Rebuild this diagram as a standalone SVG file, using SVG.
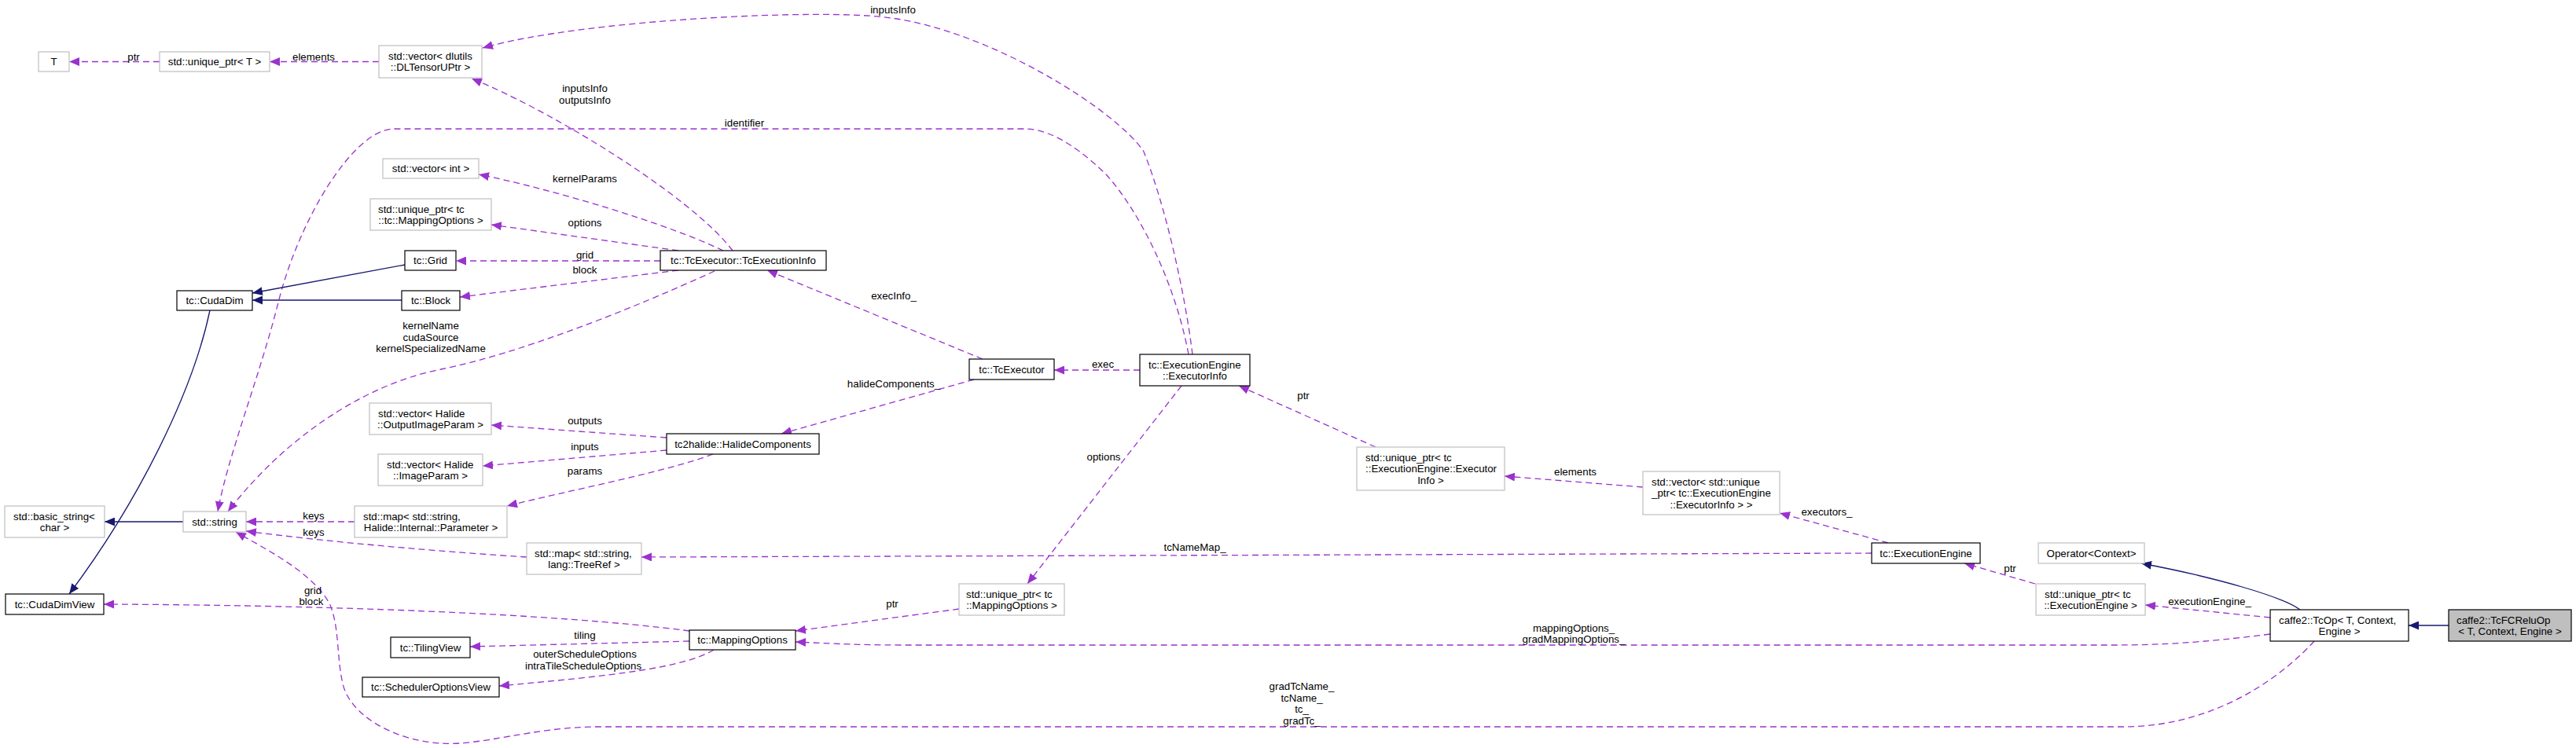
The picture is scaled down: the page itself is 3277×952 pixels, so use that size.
<svg xmlns="http://www.w3.org/2000/svg" width="3277" height="952" viewBox="0 0 3277 952">
<style>
text{font-family:"Liberation Sans",Arial,Helvetica,sans-serif;font-size:13.3px;fill:#000}
.c{text-anchor:middle}
.nb rect{fill:#fff;stroke:#000;stroke-width:1.2}
.ng rect{fill:#fff;stroke:#bfbfbf;stroke-width:1.2}
.nf rect{fill:#bfbfbf;stroke:#000;stroke-width:1.2}
.e{fill:none;stroke:#9a32cd;stroke-width:1.3;stroke-dasharray:8,5;marker-end:url(#ap)}
.i{fill:none;stroke:#191970;stroke-width:1.3;marker-end:url(#ab)}
</style>
<defs>
<marker id="ap" markerUnits="userSpaceOnUse" markerWidth="14" markerHeight="11" refX="13" refY="5.5" orient="auto"><path d="M0,0 L13,5.5 L0,11 z" fill="#9a32cd"/></marker>
<marker id="ab" markerUnits="userSpaceOnUse" markerWidth="14" markerHeight="11" refX="13" refY="5.5" orient="auto"><path d="M0,0 L13,5.5 L0,11 z" fill="#191970"/></marker>
</defs>
<rect width="3277" height="952" fill="#fff"/>
<g id="connectors">
<path class="e" d="M203,78.5 L88,78.5"/><text class="c" x="170" y="76.6">ptr</text>
<path class="e" d="M482,78.5 L343,78.5"/><text class="c" x="399" y="76.6">elements</text>
<path class="e" d="M932,319 C880,250 700,140 600,100"/><text class="c" x="744" y="116.6">inputsInfo</text><text class="c" x="744" y="131.6">outputsInfo</text>
<path class="e" d="M1517,451 C1507,370 1482,260 1455,193 C1420,140 1260,40 1134,23 C1050,10 740,25 614,61"/><text class="c" x="1136" y="16.6">inputsInfo</text>
<path class="e" d="M1512,451 C1495,360 1450,270 1408,223 C1380,195 1340,164 1304,164 L501,164 C450,164 380,280 354,385 C330,480 290,580 277,651"/><text class="c" x="947" y="160.6">identifier</text>
<path class="e" d="M920,319 C850,285 700,240 609,222"/><text class="c" x="744" y="231.6">kernelParams</text>
<path class="e" d="M863,319 L625,286"/><text class="c" x="744" y="287.6">options</text>
<path class="e" d="M840,332 L580,332"/><text class="c" x="744" y="328.6">grid</text>
<path class="e" d="M863,344 L585,378"/><text class="c" x="744" y="347.6">block</text>
<path class="i" d="M515,337 L321,373"/>
<path class="i" d="M511,382 L321,382"/>
<path class="i" d="M267,395 C245,500 175,640 88,756"/>
<path class="e" d="M909,345 C800,395 660,450 561,470 C460,490 360,560 290,651"/><text class="c" x="548" y="418.6">kernelName</text><text class="c" x="548" y="433.6">cudaSource</text><text class="c" x="548" y="447.6">kernelSpecializedName</text>
<path class="e" d="M1250,457 L976,344"/><text class="c" x="1137" y="380.6">execInfo_</text>
<path class="e" d="M1239,483 L994,552"/><text class="c" x="1137" y="492.6">halideComponents_</text>
<path class="e" d="M1450,471 L1341,471"/><text class="c" x="1403" y="467.6">exec</text>
<path class="e" d="M848,557 L625,541"/><text class="c" x="744" y="539.6">outputs</text>
<path class="e" d="M848,573 L614,593"/><text class="c" x="744" y="572.6">inputs</text>
<path class="e" d="M907,578 C850,600 720,625 645,644"/><text class="c" x="744" y="603.6">params</text>
<path class="e" d="M451,664 L313,664"/><text class="c" x="399" y="660.6">keys</text>
<path class="e" d="M670,709 C560,702 420,690 313,676"/><text class="c" x="399" y="681.6">keys</text>
<path class="i" d="M233,664 L133,664"/>
<path class="e" d="M2381,704 L816,709"/><text class="c" x="1520" y="700.6">tcNameMap_</text>
<path class="e" d="M1503,491 L1307,743"/><text class="c" x="1404" y="585.6">options</text>
<path class="e" d="M1750,569 L1576,491"/><text class="c" x="1658" y="507.6">ptr</text>
<path class="e" d="M2090,620 L1914,606"/><text class="c" x="2004" y="604.6">elements</text>
<path class="e" d="M2402,691 L2264,653"/><text class="c" x="2324" y="655.6">executors_</text>
<path class="e" d="M2589,743 L2499,717"/><text class="c" x="2557" y="727.6">ptr</text>
<path class="i" d="M2926,776 C2905,760 2820,735 2724,717"/>
<path class="e" d="M2888,786 L2729,770"/><text class="c" x="2811" y="769.6">executionEngine_</text>
<path class="e" d="M2888,807 C2800,818 2750,821 2686,821 L1150,821 C1080,821 1040,818 1012,817"/><text class="c" x="2002" y="803.6">mappingOptions_</text><text class="c" x="2002" y="817.6">gradMappingOptions_</text>
<path class="e" d="M2944,816 C2915,848 2830,925 2700,925 L760,925 C680,925 610,950 560,946 C500,942 445,910 436,870 C428,835 432,800 420,770 C400,730 340,700 300,677"/><text class="c" x="1656" y="877.6">gradTcName_</text><text class="c" x="1656" y="892.6">tcName_</text><text class="c" x="1656" y="906.6">tc_</text><text class="c" x="1656" y="921.6">gradTc_</text>
<path class="e" d="M1220,775 L1012,803"/><text class="c" x="1135" y="772.6">ptr</text>
<path class="e" d="M877,803 C700,780 400,770 132,769"/><text class="c" x="398" y="755.6">grid</text><text class="c" x="396" y="769.6">block</text>
<path class="e" d="M877,816 L598,823"/><text class="c" x="744" y="812.6">tiling</text>
<path class="e" d="M908,827 C870,850 780,860 635,873"/><text class="c" x="744" y="836.6">outerScheduleOptions</text><text class="c" x="742" y="851.6">intraTileScheduleOptions</text>
<path class="i" d="M3115,796 L3064,796"/>
</g>
<g id="n-T" class="ng"><rect x="49" y="66" width="39" height="25"/><text class="c" x="68.5" y="83">T</text></g>
<g id="n-uptrT" class="ng"><rect x="203" y="66" width="140" height="25"/><text class="c" x="273" y="83">std::unique_ptr&lt; T &gt;</text></g>
<g id="n-vecDL" class="ng"><rect x="482" y="58" width="131" height="41"/><text x="494" y="76">std::vector&lt; dlutils</text><text class="c" x="547.5" y="90">::DLTensorUPtr &gt;</text></g>
<g id="n-vecInt" class="ng"><rect x="487" y="202" width="122" height="25"/><text class="c" x="548" y="219">std::vector&lt; int &gt;</text></g>
<g id="n-uptrMO1" class="ng"><rect x="471" y="253" width="154" height="40"/><text x="481" y="270.5">std::unique_ptr&lt; tc</text><text class="c" x="548" y="284.5">::tc::MappingOptions &gt;</text></g>
<g id="n-grid" class="nb"><rect x="515" y="319" width="65" height="25"/><text class="c" x="547.5" y="336">tc::Grid</text></g>
<g id="n-block" class="nb"><rect x="511" y="370" width="74" height="25"/><text class="c" x="548" y="387">tc::Block</text></g>
<g id="n-cudaDim" class="nb"><rect x="225" y="370" width="96" height="25"/><text class="c" x="273" y="387">tc::CudaDim</text></g>
<g id="n-execInfo" class="nb"><rect x="840" y="319" width="211" height="25"/><text class="c" x="945.5" y="336">tc::TcExecutor::TcExecutionInfo</text></g>
<g id="n-tcExecutor" class="nb"><rect x="1233" y="457" width="108" height="26"/><text class="c" x="1287" y="474.5">tc::TcExecutor</text></g>
<g id="n-executorInfo" class="nb"><rect x="1450" y="451" width="140" height="40"/><text x="1461" y="468.5">tc::ExecutionEngine</text><text class="c" x="1520" y="482.5">::ExecutorInfo</text></g>
<g id="n-halide" class="nb"><rect x="848" y="552" width="194" height="26"/><text class="c" x="945" y="569.5">tc2halide::HalideComponents</text></g>
<g id="n-vecOut" class="ng"><rect x="470" y="513" width="155" height="40"/><text x="481" y="530.5">std::vector&lt; Halide</text><text class="c" x="547.5" y="544.5">::OutputImageParam &gt;</text></g>
<g id="n-vecImg" class="ng"><rect x="481" y="578" width="133" height="40"/><text x="492" y="595.5">std::vector&lt; Halide</text><text class="c" x="547.5" y="609.5">::ImageParam &gt;</text></g>
<g id="n-mapParam" class="ng"><rect x="451" y="644" width="194" height="40"/><text x="462" y="661.5">std::map&lt; std::string,</text><text class="c" x="548" y="675.5">Halide::Internal::Parameter &gt;</text></g>
<g id="n-string" class="ng"><rect x="233" y="651" width="80" height="26"/><text class="c" x="273" y="668.5">std::string</text></g>
<g id="n-basicString" class="ng"><rect x="6" y="644" width="127" height="40"/><text x="17" y="661.5">std::basic_string&lt;</text><text class="c" x="69.5" y="675.5">char &gt;</text></g>
<g id="n-mapTree" class="ng"><rect x="670" y="691" width="146" height="40"/><text x="680" y="708.5">std::map&lt; std::string,</text><text class="c" x="743" y="722.5">lang::TreeRef &gt;</text></g>
<g id="n-cudaDimView" class="nb"><rect x="7" y="756" width="125" height="26"/><text class="c" x="69.5" y="773.5">tc::CudaDimView</text></g>
<g id="n-mapping" class="nb"><rect x="877" y="802" width="135" height="25"/><text class="c" x="944.5" y="819">tc::MappingOptions</text></g>
<g id="n-tiling" class="nb"><rect x="497" y="811" width="101" height="26"/><text class="c" x="547.5" y="828.5">tc::TilingView</text></g>
<g id="n-sched" class="nb"><rect x="461" y="862" width="174" height="25"/><text class="c" x="548" y="879">tc::SchedulerOptionsView</text></g>
<g id="n-uptrMO2" class="ng"><rect x="1220" y="743" width="134" height="40"/><text x="1229" y="760.5">std::unique_ptr&lt; tc</text><text class="c" x="1287" y="774.5">::MappingOptions &gt;</text></g>
<g id="n-uptrEI" class="ng"><rect x="1726" y="569" width="188" height="55"/><text x="1737" y="586.6">std::unique_ptr&lt; tc</text><text x="1737" y="601.1">::ExecutionEngine::Executor</text><text class="c" x="1820" y="615.6">Info &gt;</text></g>
<g id="n-vecEI" class="ng"><rect x="2090" y="600" width="174" height="55"/><text x="2101" y="617.6">std::vector&lt; std::unique</text><text x="2101" y="632.1">_ptr&lt; tc::ExecutionEngine</text><text class="c" x="2177" y="646.6">::ExecutorInfo &gt; &gt;</text></g>
<g id="n-engine" class="nb"><rect x="2381" y="691" width="138" height="26"/><text class="c" x="2450" y="708.5">tc::ExecutionEngine</text></g>
<g id="n-operator" class="ng"><rect x="2593" y="691" width="135" height="26"/><text class="c" x="2660.5" y="708.5">Operator&lt;Context&gt;</text></g>
<g id="n-uptrEE" class="ng"><rect x="2590" y="743" width="139" height="40"/><text x="2601" y="760.5">std::unique_ptr&lt; tc</text><text class="c" x="2659.5" y="774.5">::ExecutionEngine &gt;</text></g>
<g id="n-tcop" class="nb"><rect x="2888" y="776" width="176" height="40"/><text x="2899" y="793.5">caffe2::TcOp&lt; T, Context,</text><text class="c" x="2976" y="807.5">Engine &gt;</text></g>
<g id="n-relu" class="nf"><rect x="3115" y="776" width="156" height="40"/><text x="3125" y="793.5">caffe2::TcFCReluOp</text><text class="c" x="3193" y="807.5">&lt; T, Context, Engine &gt;</text></g>
</svg>
